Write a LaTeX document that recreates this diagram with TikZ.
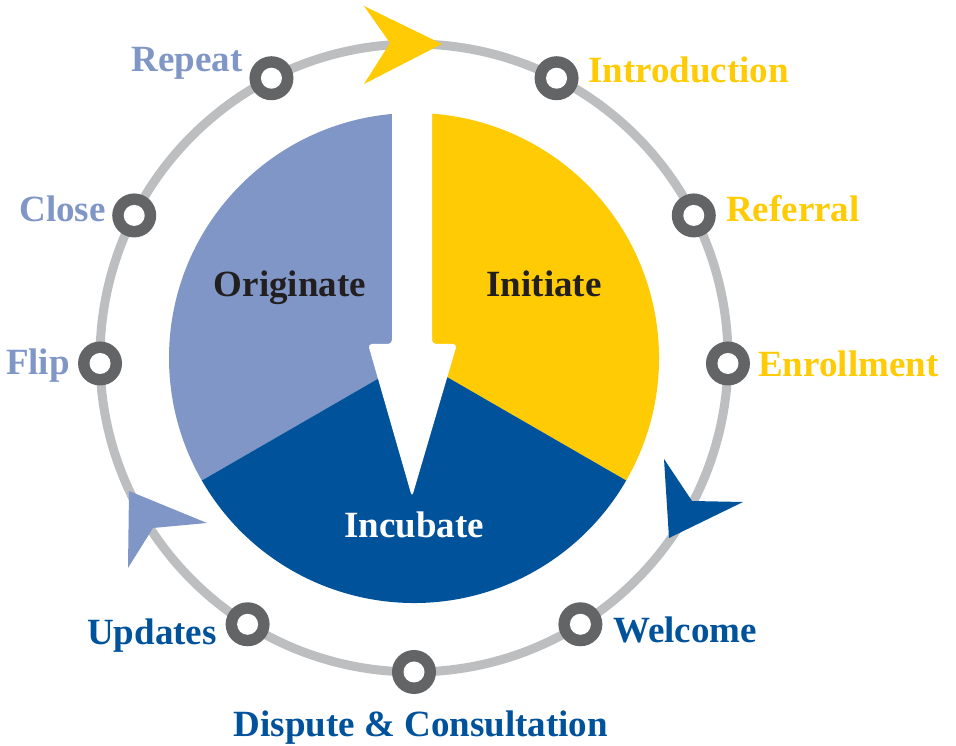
\documentclass[tikz,border=0pt]{standalone}
\usepackage{fontspec}
\setmainfont{Liberation Serif}
\definecolor{cyellow}{HTML}{FFCB05}
\definecolor{dblue}{HTML}{00529B}
\definecolor{lblue}{HTML}{7F96C6}
\definecolor{ringgray}{HTML}{BCBEC0}
\definecolor{dotgray}{HTML}{636466}
\definecolor{tdark}{HTML}{231F20}
\begin{document}
\begin{tikzpicture}[x=1pt,y=1pt,
  lbl/.style={font=\fontsize{37}{40}\selectfont\bfseries, inner sep=0pt},
  dot/.style={circle, fill=dotgray, minimum size=44pt, inner sep=0pt, outer sep=0pt}]
\useasboundingbox (0,0) rectangle (956,746);
\coordinate (C) at (414,388);
% outer ring
\draw[ringgray, line width=9pt] (C) circle[radius=314];
% arrowheads on ring
\fill[cyellow] (364,740) -- (390,703) -- (364,662) -- (442,702) -- cycle;
\fill[dblue] (664,287) -- (692,245) -- (743,244) -- (669,208) -- cycle;
\fill[lblue] (129,255) -- (207,223) -- (153,218) -- (128,178) -- cycle;
% dots
\foreach \a/\n in {117/repeat,63/intro,27/referral,-1/enroll,153/close,181/flip,238/updates,302/welcome,270/dispute}{
  \node[dot] (d\n) at ([shift={(\a:314)}]C) {};
  \fill[white] (d\n.center) circle[radius=10.5];
}
% pie
\fill[lblue] (C) -- ([shift={(90:245)}]C) arc[start angle=90, end angle=210, radius=245] -- cycle;
\fill[cyellow] (C) -- ([shift={(-30:245)}]C) arc[start angle=-30, end angle=90, radius=245] -- cycle;
\fill[dblue] (C) -- ([shift={(210:245)}]C) arc[start angle=210, end angle=330, radius=245] -- cycle;
% white arrow
\fill[white, rounded corners=4pt] (392,660) -- (392,402) -- (368,402) -- (412,249) -- (457,402) -- (432,402) -- (432,660) -- cycle;
% labels
\node[lbl, text=lblue, anchor=base east] (repeat) at (243,674) {Repeat};
\node[lbl, text=cyellow, anchor=base west] (intro) at (588,663) {Introduction};
\node[lbl, text=cyellow, anchor=base west] (referral) at (726,524) {Referral};
\node[lbl, text=cyellow, anchor=base west] (enroll) at (758,369) {Enrollment};
\node[lbl, text=lblue, anchor=base east] (close) at (106,524) {Close};
\node[lbl, text=lblue, anchor=base east] (flip) at (70,371) {Flip};
\node[lbl, text=dblue, anchor=base east] (updates) at (217,101) {Updates};
\node[lbl, text=dblue, anchor=base west] (welcome) at (613,103) {Welcome};
\node[lbl, text=dblue, anchor=base] (dispute) at (421,9) {Dispute \& Consultation};
\node[lbl, text=tdark, anchor=base] (orig) at (290,449) {Originate};
\node[lbl, text=tdark, anchor=base] (init) at (544,449) {Initiate};
\node[lbl, text=white, anchor=base] (incub) at (414,208) {Incubate};
\end{tikzpicture}
\end{document}
